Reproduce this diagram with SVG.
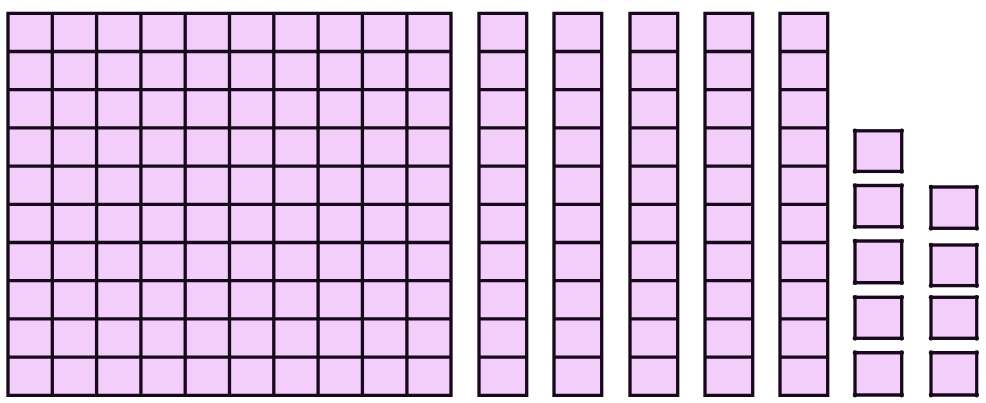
<svg xmlns="http://www.w3.org/2000/svg" xmlns:xlink="http://www.w3.org/1999/xlink" width="986" height="403" viewBox="0 0 986 403">
<style>
.fill{fill:#f3cefb;stroke:none}
.ln{fill:none;stroke:#17091b;stroke-width:3.3;stroke-linecap:square}
.u{fill:#f3cefb;stroke:#17091b;stroke-width:3.3}
.dot{fill:#17091b}
</style>
<defs>
<g id="rod">
<rect class="fill" x="0" y="0" width="47.7" height="382"/>
<path class="ln" d="M0,0V382M47.7,0V382M0,0H47.7M0,38.2H47.7M0,76.4H47.7M0,114.6H47.7M0,152.8H47.7M0,191H47.7M0,229.2H47.7M0,267.4H47.7M0,305.6H47.7M0,343.8H47.7M0,382H47.7"/>
</g>
<g id="unit">
<rect class="u" x="0" y="0" width="46.7" height="40.6"/>
<circle class="dot" cx="0" cy="0" r="2.3"/><circle class="dot" cx="46.7" cy="0" r="2.3"/>
<circle class="dot" cx="0" cy="40.6" r="2.3"/><circle class="dot" cx="46.7" cy="40.6" r="2.3"/>
</g>
</defs>
<rect width="986" height="403" fill="#ffffff"/>
<g id="hundred">
<rect class="fill" x="8" y="13.3" width="443" height="382"/>
<path class="ln" d="M8,13.3V395.3M52.3,13.3V395.3M96.6,13.3V395.3M140.9,13.3V395.3M185.2,13.3V395.3M229.5,13.3V395.3M273.8,13.3V395.3M318.1,13.3V395.3M362.4,13.3V395.3M406.9,13.3V395.3M451,13.3V395.3M8,13.3H451M8,51.5H451M8,89.7H451M8,127.9H451M8,166.1H451M8,204.3H451M8,242.5H451M8,280.7H451M8,318.9H451M8,357.1H451M8,395.3H451"/>
</g>
<g id="ten1"><use xlink:href="#rod" transform="translate(479,13.3)"/></g>
<g id="ten2"><use xlink:href="#rod" transform="translate(554,13.3)"/></g>
<g id="ten3"><use xlink:href="#rod" transform="translate(630,13.3)"/></g>
<g id="ten4"><use xlink:href="#rod" transform="translate(705,13.3)"/></g>
<g id="ten5"><use xlink:href="#rod" transform="translate(780,13.3)"/></g>
<g id="one1"><use xlink:href="#unit" transform="translate(855,130.8)"/></g>
<g id="one2"><use xlink:href="#unit" transform="translate(855,185.5) scale(1,1.017)"/></g>
<g id="one3"><use xlink:href="#unit" transform="translate(855,241) scale(1,1.027)"/></g>
<g id="one4"><use xlink:href="#unit" transform="translate(855,297.3) scale(1,1.01)"/></g>
<g id="one5"><use xlink:href="#unit" transform="translate(855,352.7) scale(1,1.042)"/></g>
<g id="one6"><use xlink:href="#unit" transform="translate(931,187) scale(0.979,1.017)"/></g>
<g id="one7"><use xlink:href="#unit" transform="translate(931,245) scale(0.979,1)"/></g>
<g id="one8"><use xlink:href="#unit" transform="translate(931,297.3) scale(0.979,1.01)"/></g>
<g id="one9"><use xlink:href="#unit" transform="translate(931,352.7) scale(0.979,1.042)"/></g>
<g id="connectors"/>
</svg>
